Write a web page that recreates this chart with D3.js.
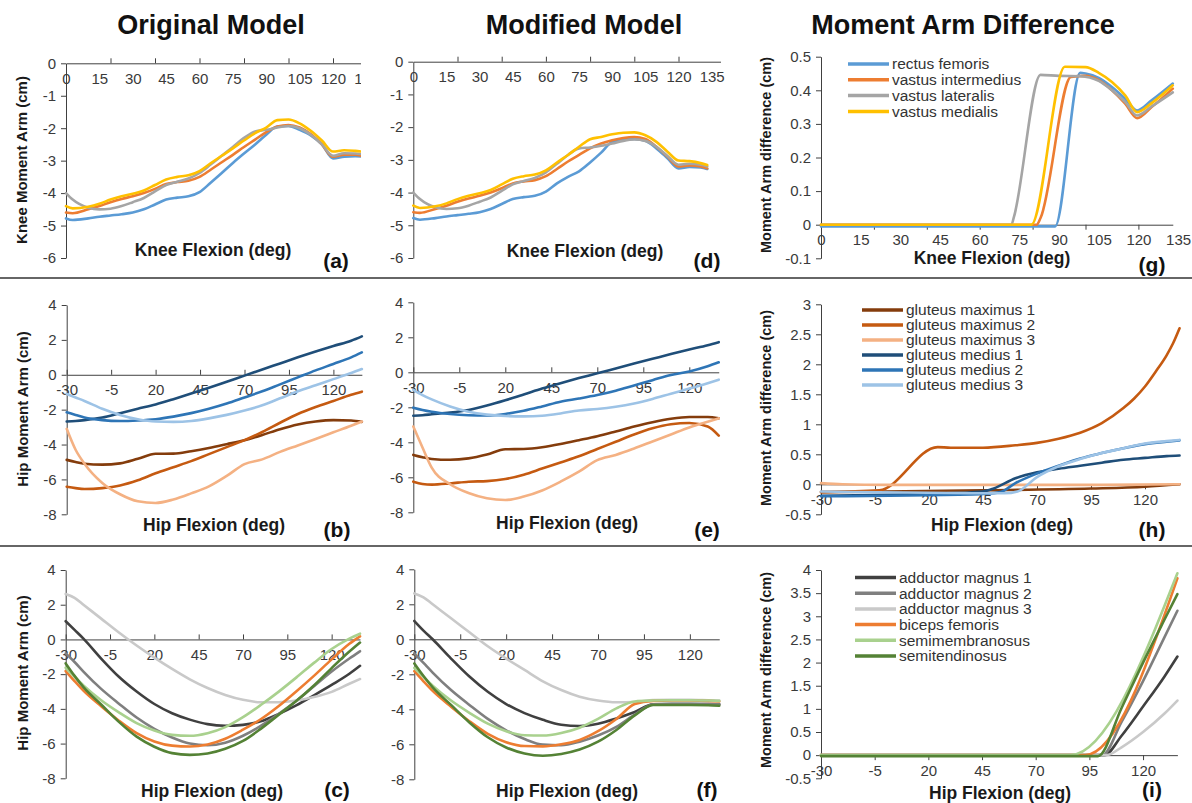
<!DOCTYPE html>
<html>
<head>
<meta charset="utf-8">
<script src="https://cdn.jsdelivr.net/npm/d3@7"></script>
<style>
  body { margin: 0; background: #fff; }
  svg { display: block; font-family: "Liberation Sans", Arial, sans-serif; }
</style>
</head>
<body>
<div id="wrapper"></div>
<script>
// ---------- knee panels (a), (d) ----------
const kneeAngles = [0,3,10,15,20,25,30,35,40,45,50,55,60,65,70,75,80,85,90,95,100,105,110,115,120,125,130,133];
const kneeTickLabels = [0,15,30,45,60,75,90,105,120,135];
const kneeTickMarks = [20,40,60,80,100,120];

const origRectusFemoris     = [-4.78,-4.83,-4.78,-4.73,-4.69,-4.65,-4.6,-4.5,-4.35,-4.2,-4.14,-4.1,-3.97,-3.68,-3.38,-3.07,-2.78,-2.5,-2.2,-1.95,-1.93,-2.05,-2.22,-2.5,-2.93,-2.88,-2.86,-2.87];
const origVastusIntermedius = [-4.6,-4.62,-4.5,-4.4,-4.28,-4.18,-4.1,-4.0,-3.87,-3.72,-3.66,-3.62,-3.5,-3.28,-3.05,-2.82,-2.58,-2.35,-2.12,-1.95,-1.9,-1.98,-2.18,-2.5,-2.88,-2.82,-2.82,-2.85];
const origVastusLateralis   = [-4.0,-4.2,-4.45,-4.5,-4.48,-4.4,-4.28,-4.15,-3.95,-3.75,-3.65,-3.55,-3.38,-3.12,-2.85,-2.58,-2.3,-2.1,-2.05,-1.98,-1.93,-2.0,-2.2,-2.5,-2.85,-2.77,-2.78,-2.8];
const origVastusMedialis    = [-4.4,-4.47,-4.42,-4.33,-4.2,-4.1,-4.02,-3.92,-3.75,-3.58,-3.5,-3.45,-3.32,-3.08,-2.85,-2.62,-2.38,-2.15,-1.98,-1.75,-1.73,-1.85,-2.08,-2.38,-2.72,-2.68,-2.7,-2.72];

const modRectusFemoris     = [-4.78,-4.83,-4.78,-4.73,-4.69,-4.65,-4.6,-4.5,-4.35,-4.2,-4.14,-4.1,-3.97,-3.72,-3.52,-3.35,-3.08,-2.78,-2.45,-2.38,-2.36,-2.42,-2.65,-2.95,-3.26,-3.22,-3.23,-3.28];
const modVastusIntermedius = [-4.6,-4.62,-4.5,-4.4,-4.28,-4.18,-4.1,-4.0,-3.87,-3.72,-3.66,-3.62,-3.5,-3.28,-3.05,-2.85,-2.65,-2.5,-2.4,-2.33,-2.3,-2.36,-2.6,-2.9,-3.2,-3.17,-3.2,-3.26];
const modVastusLateralis   = [-4.0,-4.2,-4.45,-4.5,-4.48,-4.4,-4.28,-4.15,-3.95,-3.75,-3.65,-3.55,-3.38,-3.12,-2.85,-2.65,-2.62,-2.57,-2.5,-2.42,-2.38,-2.42,-2.6,-2.88,-3.15,-3.12,-3.15,-3.2];
const modVastusMedialis    = [-4.4,-4.47,-4.42,-4.33,-4.2,-4.1,-4.02,-3.92,-3.75,-3.58,-3.5,-3.45,-3.32,-3.08,-2.85,-2.6,-2.37,-2.3,-2.22,-2.17,-2.16,-2.25,-2.45,-2.75,-3.02,-3.04,-3.1,-3.16];

// ---------- knee difference (g) ----------
const diffRectusX = [0,88.5,98,100,105,110,115,119.5,125,133];
const diffRectus  = [-0.005,-0.005,0.452,0.45,0.437,0.41,0.375,0.34,0.37,0.42];
const diffIntermX = [0,81.5,83,94.5,100,105,110,115,119.5,125,133];
const diffInterm  = [0,0,0.02,0.44,0.443,0.43,0.4,0.36,0.317,0.35,0.405];
const diffLatX = [0,72,73,83,90,98,105,110,115,119.5,125,133];
const diffLat  = [0,0,0.025,0.446,0.443,0.442,0.428,0.4,0.365,0.325,0.352,0.394];
const diffMedX = [0,79.5,92.2,100,105,110,115,119.5,125,133];
const diffMed  = [0,0,0.47,0.469,0.452,0.425,0.385,0.335,0.362,0.415];

// ---------- hip panels (b), (e), (c), (f) ----------
const hipAngles = [-30,-25,-20,-10,0,10,20,30,40,50,60,70,80,90,100,110,120,130,136];
const hipTickLabels = [-30,-5,20,45,70,95,120];

const origGlutMax1 = [-4.88,-5.0,-5.1,-5.15,-5.08,-4.82,-4.53,-4.52,-4.38,-4.2,-3.98,-3.75,-3.45,-3.12,-2.85,-2.68,-2.6,-2.62,-2.7];
const origGlutMax2 = [-6.42,-6.5,-6.55,-6.5,-6.35,-6.05,-5.65,-5.3,-4.95,-4.55,-4.15,-3.75,-3.28,-2.75,-2.25,-1.85,-1.5,-1.15,-0.97];
const origGlutMax3 = [-3.1,-4.3,-5.1,-6.2,-6.85,-7.25,-7.35,-7.15,-6.8,-6.4,-5.8,-5.12,-4.85,-4.42,-4.05,-3.68,-3.3,-2.92,-2.68];
const origGlutMed1 = [-2.68,-2.65,-2.6,-2.45,-2.2,-1.95,-1.7,-1.4,-1.08,-0.75,-0.4,-0.05,0.3,0.65,1.0,1.33,1.65,1.95,2.2];
const origGlutMed2 = [-2.15,-2.3,-2.45,-2.6,-2.65,-2.62,-2.55,-2.4,-2.2,-1.95,-1.65,-1.3,-0.95,-0.55,-0.15,0.25,0.62,1.0,1.28];
const origGlutMed3 = [-1.1,-1.3,-1.5,-1.95,-2.3,-2.55,-2.68,-2.7,-2.65,-2.5,-2.3,-2.05,-1.75,-1.35,-0.95,-0.6,-0.25,0.1,0.33];

const modGlutMax1 = [-4.72,-4.85,-4.95,-5.0,-4.92,-4.7,-4.4,-4.38,-4.28,-4.1,-3.88,-3.65,-3.38,-3.1,-2.85,-2.65,-2.55,-2.55,-2.63];
const modGlutMax2 = [-6.25,-6.38,-6.42,-6.35,-6.25,-6.22,-6.1,-5.85,-5.5,-5.15,-4.8,-4.38,-3.97,-3.55,-3.2,-2.97,-2.9,-3.1,-3.62];
const modGlutMax3 = [-3.1,-4.3,-5.45,-6.4,-6.9,-7.2,-7.3,-7.1,-6.75,-6.25,-5.68,-5.02,-4.72,-4.35,-3.95,-3.55,-3.15,-2.82,-2.63];
const modGlutMed1 = [-2.48,-2.45,-2.4,-2.3,-2.15,-1.9,-1.6,-1.27,-0.93,-0.62,-0.33,-0.06,0.22,0.5,0.77,1.04,1.3,1.55,1.72];
const modGlutMed2 = [-2.02,-2.15,-2.25,-2.38,-2.45,-2.47,-2.38,-2.2,-1.95,-1.68,-1.5,-1.3,-1.05,-0.75,-0.45,-0.15,0.05,0.35,0.57];
const modGlutMed3 = [-1.0,-1.3,-1.55,-1.95,-2.25,-2.42,-2.5,-2.52,-2.48,-2.35,-2.18,-2.1,-1.97,-1.78,-1.52,-1.22,-0.93,-0.62,-0.42];

const origAddMag1 = [1.05,0.55,0.05,-1.1,-2.15,-3.0,-3.72,-4.25,-4.62,-4.88,-4.97,-4.92,-4.72,-4.3,-3.8,-3.22,-2.62,-1.98,-1.52];
const origAddMag2 = [-0.8,-1.3,-1.85,-2.85,-3.7,-4.5,-5.15,-5.65,-6.0,-6.1,-5.95,-5.55,-4.98,-4.3,-3.55,-2.7,-1.85,-1.1,-0.68];
const origAddMag3 = [2.62,2.4,2.0,1.2,0.4,-0.35,-1.05,-1.7,-2.3,-2.8,-3.2,-3.48,-3.62,-3.62,-3.52,-3.32,-3.02,-2.55,-2.28];
const origBicFem  = [-1.82,-2.4,-2.95,-3.85,-4.68,-5.4,-5.88,-6.12,-6.17,-6.05,-5.72,-5.2,-4.6,-3.85,-3.0,-2.1,-1.15,-0.25,0.18];
const origSemimem = [-1.63,-2.15,-2.65,-3.5,-4.2,-4.82,-5.25,-5.5,-5.55,-5.4,-5.05,-4.48,-3.78,-3.02,-2.2,-1.35,-0.55,0.05,0.33];
const origSemiten = [-1.38,-2.1,-2.75,-3.75,-4.75,-5.6,-6.18,-6.55,-6.65,-6.57,-6.3,-5.85,-5.15,-4.35,-3.55,-2.65,-1.65,-0.7,-0.18];

const modAddMag1 = [1.05,0.5,0.0,-1.1,-2.13,-3.0,-3.7,-4.22,-4.6,-4.88,-4.95,-4.82,-4.52,-4.15,-3.72,-3.7,-3.7,-3.7,-3.72];
const modAddMag2 = [-0.8,-1.35,-1.9,-2.9,-3.75,-4.55,-5.2,-5.7,-6.02,-6.05,-5.85,-5.5,-5.0,-4.3,-3.72,-3.68,-3.68,-3.7,-3.72];
const modAddMag3 = [2.62,2.4,2.0,1.2,0.4,-0.4,-1.1,-1.75,-2.4,-2.9,-3.28,-3.5,-3.6,-3.58,-3.47,-3.45,-3.45,-3.48,-3.5];
const modBicFem  = [-1.82,-2.4,-2.95,-3.85,-4.68,-5.4,-5.88,-6.1,-6.12,-6.0,-5.75,-5.25,-4.55,-3.7,-3.52,-3.5,-3.5,-3.52,-3.55];
const modSemimem = [-1.63,-2.15,-2.65,-3.5,-4.2,-4.82,-5.25,-5.48,-5.5,-5.35,-5.05,-4.55,-3.95,-3.55,-3.5,-3.48,-3.48,-3.5,-3.52];
const modSemiten = [-1.38,-2.1,-2.75,-3.75,-4.75,-5.6,-6.18,-6.52,-6.65,-6.55,-6.3,-5.85,-5.18,-4.35,-3.75,-3.75,-3.75,-3.77,-3.8];

// ---------- hip difference (h) ----------
const diffGlutMax1X = [-30,0,45,95,120,136];
const diffGlutMax1  = [-0.13,-0.12,-0.1,-0.07,-0.04,0.0];
const diffGlutMax2X = [-30,-3,24,30,45,60,70,80,90,100,110,115,120,125,130,133,136];
const diffGlutMax2  = [-0.13,-0.1,0.62,0.61,0.61,0.65,0.69,0.76,0.86,1.02,1.27,1.43,1.63,1.88,2.15,2.35,2.6];
const diffGlutMax3X = [-30,-20,0,60,100,136];
const diffGlutMax3  = [0.02,0.0,-0.01,-0.01,-0.01,0.0];
const diffGlutMed1X = [-30,20,45,50,60,70,80,90,100,110,120,130,136];
const diffGlutMed1  = [-0.19,-0.16,-0.12,-0.07,0.1,0.2,0.26,0.31,0.36,0.41,0.44,0.47,0.48];
const diffGlutMed2X = [-30,40,53,60,70,80,90,100,110,120,130,136];
const diffGlutMed2  = [-0.2,-0.17,-0.13,0.02,0.18,0.31,0.43,0.52,0.6,0.67,0.71,0.73];
const diffGlutMed3X = [-30,55,61,70,80,90,100,110,120,130,136];
const diffGlutMed3  = [-0.12,-0.15,-0.12,0.12,0.3,0.42,0.52,0.6,0.68,0.72,0.74];

// ---------- hamstring / adductor difference (i) ----------
const diffAddMag1X = [-30,102,110,120,130,136];
const diffAddMag1  = [0,0,0.42,1.05,1.7,2.13];
const diffAddMag2X = [-30,101,110,120,130,136];
const diffAddMag2  = [0,0,0.72,1.6,2.55,3.12];
const diffAddMag3X = [-30,103,110,120,130,136];
const diffAddMag3  = [0,0,0.17,0.5,0.9,1.18];
const diffBicFemX  = [-30,93,136];
const diffBicFem   = [0,0,3.82];
const diffSemimemX = [-30,86,136];
const diffSemimem  = [0,0,3.93];
const diffSemitenX = [-30,99,110,120,130,136];
const diffSemiten  = [-0.02,-0.02,1.02,2.0,2.93,3.48];

const kneeNames = ["rectus femoris","vastus intermedius","vastus lateralis","vastus medialis"];
const glutNames = ["gluteus maximus 1","gluteus maximus 2","gluteus maximus 3","gluteus medius 1","gluteus medius 2","gluteus medius 3"];
const hamNames  = ["adductor magnus 1","adductor magnus 2","adductor magnus 3","biceps femoris","semimembranosus","semitendinosus"];

const kneeColors = ["#5b9bd5","#ed7d31","#a5a5a5","#ffc000"];
const glutColors = ["#843c0c","#c55a11","#f4b183","#1f4e79","#2e75b6","#9dc3e6"];
const hamColors  = ["#404040","#7f7f7f","#c9c9c9","#ed7d31","#a9d18e","#548235"];

const numFmt = d => String(+d.toFixed(1));

function drawFigure() {
    const width = 1192, height = 803;
    const svg = d3.select("#wrapper").append("svg")
        .attr("width", width)
        .attr("height", height);
    svg.append("rect").attr("width", width).attr("height", height).attr("fill", "#fff");

    // panel (a) is cropped on its right side in the original figure
    svg.append("clipPath").attr("id", "clip-a")
        .append("rect").attr("x", 0).attr("y", 0).attr("width", 361).attr("height", 280);

    const kneeSeries = (ys) => ys.map((v, i) => ({x: kneeAngles, y: v, color: kneeColors[i]}));
    const hipSeries = (ys, colors) => ys.map((v, i) => ({x: hipAngles, y: v, color: colors[i]}));

    const kneeDiffTicks = d3.range(-1, 6).map(d => d / 10);
    const halfTicks = (lo, hi) => d3.range(lo * 2, hi * 2 + 1).map(d => d / 2);

    const panels = [
        {x0: 66, pxPer: 2.225, xMin: 0, xMax: 139, yDomain: [-6, 0], yRange: [258, 63.3],
         yTicks: d3.range(-6, 1), labels: kneeTickLabels, marks: kneeTickMarks, markDir: "up", clip: "clip-a",
         series: kneeSeries([origRectusFemoris, origVastusIntermedius, origVastusLateralis, origVastusMedialis]),
         xTitle: [213, 256], yTitle: ["Knee Moment Arm (cm)", 22, 160], letter: ["(a)", 336, 268]},
        {x0: 413.3, pxPer: 2.21, xMin: 0, xMax: 139, yDomain: [-6, 0], yRange: [258, 61.7],
         yTicks: d3.range(-6, 1), labels: kneeTickLabels, marks: kneeTickMarks, markDir: "up",
         series: kneeSeries([modRectusFemoris, modVastusIntermedius, modVastusLateralis, modVastusMedialis]),
         xTitle: [585, 257], letter: ["(d)", 707, 268]},
        {x0: 821, pxPer: 2.645, xMin: 0, xMax: 133, yDomain: [-0.1, 0.5], yRange: [258.3, 56.7],
         yTicks: kneeDiffTicks, labels: kneeTickLabels, marks: kneeTickMarks, markDir: "down",
         series: [
            {x: diffRectusX, y: diffRectus, color: kneeColors[0]},
            {x: diffIntermX, y: diffInterm, color: kneeColors[1]},
            {x: diffLatX, y: diffLat, color: kneeColors[2]},
            {x: diffMedX, y: diffMed, color: kneeColors[3]}],
         legend: {names: kneeNames, colors: kneeColors, x: 848, y: 64, step: 15.8},
         xTitle: [992, 264], yTitle: ["Moment Arm difference (cm)", 766, 155], letter: ["(g)", 1152, 272]},

        {x0: 66.7, pxPer: 1.778, xMin: -30, xMax: 136, yDomain: [-8, 4], yRange: [514.3, 305],
         yTicks: d3.range(-8, 5, 2), labels: hipTickLabels, marks: hipTickLabels, markDir: "up",
         series: hipSeries([origGlutMax1, origGlutMax2, origGlutMax3, origGlutMed1, origGlutMed2, origGlutMed3], glutColors),
         xTitle: [214, 531], yTitle: ["Hip Moment Arm (cm)", 23, 409], letter: ["(b)", 337, 537]},
        {x0: 413.3, pxPer: 1.84, xMin: -30, xMax: 136, yDomain: [-8, 4], yRange: [512.3, 302.3],
         yTicks: d3.range(-8, 5, 2), labels: hipTickLabels, marks: hipTickLabels, markDir: "up",
         series: hipSeries([modGlutMax1, modGlutMax2, modGlutMax3, modGlutMed1, modGlutMed2, modGlutMed3], glutColors),
         xTitle: [567, 529], letter: ["(e)", 707, 537]},
        {x0: 821, pxPer: 2.16, xMin: -30, xMax: 136, yDomain: [-0.5, 3], yRange: [514.3, 304.3],
         yTicks: halfTicks(-0.5, 3), labels: hipTickLabels, marks: hipTickLabels, markDir: "down",
         series: [
            {x: diffGlutMax1X, y: diffGlutMax1, color: glutColors[0]},
            {x: diffGlutMax2X, y: diffGlutMax2, color: glutColors[1]},
            {x: diffGlutMax3X, y: diffGlutMax3, color: glutColors[2]},
            {x: diffGlutMed1X, y: diffGlutMed1, color: glutColors[3]},
            {x: diffGlutMed2X, y: diffGlutMed2, color: glutColors[4]},
            {x: diffGlutMed3X, y: diffGlutMed3, color: glutColors[5]}],
         legend: {names: glutNames, colors: glutColors, x: 862, y: 310, step: 15},
         xTitle: [1002, 531], yTitle: ["Moment Arm difference (cm)", 766, 408], letter: ["(h)", 1152, 537]},

        {x0: 65.7, pxPer: 1.773, xMin: -30, xMax: 136, yDomain: [-8, 4], yRange: [778.3, 570],
         yTicks: d3.range(-8, 5, 2), labels: hipTickLabels, marks: hipTickLabels, markDir: "up",
         series: hipSeries([origAddMag1, origAddMag2, origAddMag3, origBicFem, origSemimem, origSemiten], hamColors),
         xTitle: [212, 797], yTitle: ["Hip Moment Arm (cm)", 23, 673], letter: ["(c)", 337, 797]},
        {x0: 414.3, pxPer: 1.837, xMin: -30, xMax: 136, yDomain: [-8, 4], yRange: [779.3, 569.3],
         yTicks: d3.range(-8, 5, 2), labels: hipTickLabels, marks: hipTickLabels, markDir: "up",
         series: hipSeries([modAddMag1, modAddMag2, modAddMag3, modBicFem, modSemimem, modSemiten], hamColors),
         xTitle: [567, 797], letter: ["(f)", 707, 797]},
        {x0: 821, pxPer: 2.147, xMin: -30, xMax: 136, yDomain: [-0.5, 4], yRange: [778.3, 570],
         yTicks: halfTicks(-0.5, 4), labels: hipTickLabels, marks: hipTickLabels, markDir: "down",
         series: [
            {x: diffAddMag1X, y: diffAddMag1, color: hamColors[0]},
            {x: diffAddMag2X, y: diffAddMag2, color: hamColors[1]},
            {x: diffAddMag3X, y: diffAddMag3, color: hamColors[2]},
            {x: diffBicFemX, y: diffBicFem, color: hamColors[3]},
            {x: diffSemimemX, y: diffSemimem, color: hamColors[4]},
            {x: diffSemitenX, y: diffSemiten, color: hamColors[5]}],
         legend: {names: hamNames, colors: hamColors, x: 855, y: 577.5, step: 15.7},
         xTitle: [1000, 799], yTitle: ["Moment Arm difference (cm)", 766, 670], letter: ["(i)", 1152, 797]},
    ];

    panels.forEach((p, i) => drawPanel(svg, p, i < 3 ? "Knee Flexion (deg)" : "Hip Flexion (deg)"));

    // column titles
    [["Original Model", 211], ["Modified Model", 584], ["Moment Arm Difference", 963]].forEach(([t, x]) => {
        svg.append("text")
            .attr("x", x).attr("y", 34)
            .attr("text-anchor", "middle")
            .attr("font-size", 27).attr("font-weight", "bold")
            .attr("fill", "#111")
            .text(t);
    });

    // row separators
    [278, 546].forEach(yy => {
        svg.append("line")
            .attr("x1", 0).attr("x2", width)
            .attr("y1", yy).attr("y2", yy)
            .attr("stroke", "#666").attr("stroke-width", 2);
    });
}

function drawPanel(svg, p, xTitleText) {
    const g = svg.append("g");
    if (p.clip) g.attr("clip-path", `url(#${p.clip})`);

    const x = d3.scaleLinear()
        .domain([p.xMin, p.xMax])
        .range([p.x0, p.x0 + (p.xMax - p.xMin) * p.pxPer]);
    const y = d3.scaleLinear().domain(p.yDomain).range(p.yRange);
    const zeroY = y(0);

    // y axis
    const yAxis = g.append("g")
        .attr("transform", `translate(${p.x0},0)`)
        .call(d3.axisLeft(y).tickValues(p.yTicks).tickSize(5).tickSizeOuter(0)
            .tickPadding(5).tickFormat(numFmt));

    // x axis line + tick marks
    const markAxis = p.markDir === "up" ? d3.axisTop(x) : d3.axisBottom(x);
    const xAxis = g.append("g")
        .attr("transform", `translate(0,${zeroY})`)
        .call(markAxis.tickValues(p.marks).tickSize(5).tickSizeOuter(0).tickFormat(""));

    // x tick labels, always below the zero line
    const xLabels = g.append("g")
        .attr("transform", `translate(0,${zeroY})`)
        .call(d3.axisBottom(x).tickValues(p.labels).tickSize(0).tickPadding(10).tickFormat(numFmt));
    xLabels.select(".domain").remove();

    [yAxis, xAxis, xLabels].forEach(a => {
        a.selectAll(".domain, .tick line").attr("stroke", "#404040").attr("stroke-width", 1);
        a.selectAll("text")
            .attr("font-size", 15)
            .attr("font-family", '"Liberation Sans", Arial, sans-serif')
            .attr("fill", "#3a3a3a");
    });

    // series
    p.series.forEach(s => {
        const line = d3.line()
            .x((d, i) => x(s.x[i]))
            .y(d => y(d))
            .curve(d3.curveMonotoneX);
        g.append("path")
            .datum(s.y)
            .attr("d", line)
            .attr("fill", "none")
            .attr("stroke", s.color)
            .attr("stroke-width", 2.6)
            .attr("stroke-linejoin", "round")
            .attr("stroke-linecap", "round");
    });

    // legend
    if (p.legend) {
        const L = p.legend;
        L.names.forEach((name, i) => {
            const ly = L.y + i * L.step;
            g.append("line")
                .attr("x1", L.x).attr("x2", L.x + 41)
                .attr("y1", ly).attr("y2", ly)
                .attr("stroke", L.colors[i]).attr("stroke-width", 3.5);
            g.append("text")
                .attr("x", L.x + 44).attr("y", ly)
                .attr("dy", "0.35em")
                .attr("font-size", 15.5)
                .attr("fill", "#333")
                .text(name);
        });
    }

    // axis titles
    g.append("text")
        .attr("x", p.xTitle[0]).attr("y", p.xTitle[1])
        .attr("text-anchor", "middle")
        .attr("font-size", 17.5).attr("font-weight", "bold")
        .attr("fill", "#1a1a1a")
        .text(xTitleText);

    if (p.yTitle) {
        const [t, tx, ty] = p.yTitle;
        svg.append("text")
            .attr("transform", `translate(${tx},${ty}) rotate(-90)`)
            .attr("text-anchor", "middle")
            .attr("dy", "0.35em")
            .attr("font-size", t.startsWith("Moment") ? 14.5 : 15)
            .attr("font-weight", "bold")
            .attr("fill", "#1a1a1a")
            .text(t);
    }

    svg.append("text")
        .attr("x", p.letter[1]).attr("y", p.letter[2])
        .attr("text-anchor", "middle")
        .attr("font-size", 21).attr("font-weight", "bold")
        .attr("fill", "#111")
        .text(p.letter[0]);
}

drawFigure();
</script>
</body>
</html>
